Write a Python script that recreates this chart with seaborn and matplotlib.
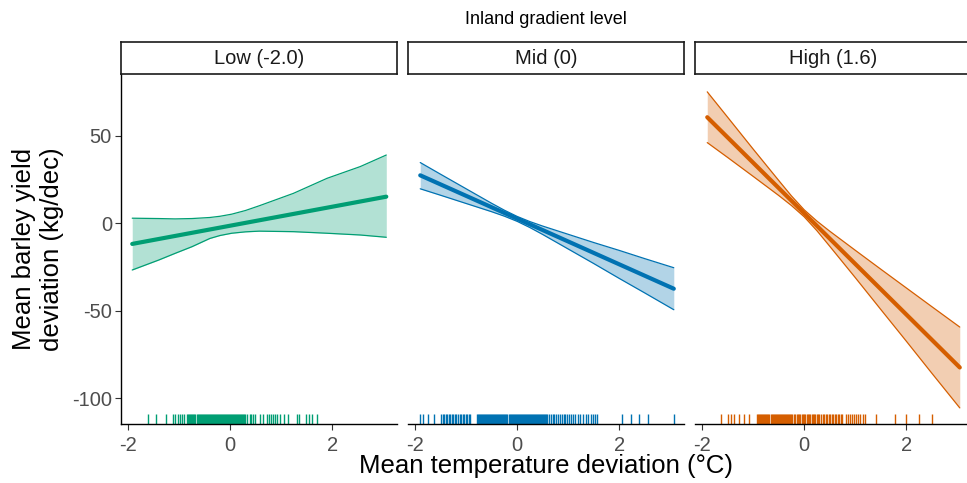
import numpy as np
import pandas as pd
import seaborn as sns
import matplotlib.pyplot as plt

sns.set_theme(style="ticks")
plt.rcParams['font.family'] = ['Liberation Sans', 'DejaVu Sans']

panels = ["Low (-2.0)", "Mid (0)", "High (1.6)"]
colors = ["#009E73", "#0072B2", "#D55E00"]

# fitted lines (end points)
fit_x = [[-1.92, 3.06], [-1.90, 3.07], [-1.90, 3.05]]
fit_y = [[-11.8, 15.2], [27.4, -37.4], [60.6, -82.4]]

# confidence bands
low_band_x = [-1.92, -1.4, -1.08, -0.75, -0.4, -0.2, 0.03, 0.3, 0.57, 1.24, 1.90, 2.55, 3.06]
low_upper = [2.9, 2.7, 2.5, 2.7, 3.3, 4.0, 5.2, 7.3, 10.0, 17.1, 25.7, 32.4, 39.0]
low_lower = [-26.7, -21.0, -17.2, -13.4, -8.7, -7.0, -5.7, -4.9, -4.5, -4.8, -5.7, -6.7, -8.0]

mid_band_x = [-1.9, -1.5, -1.0, -0.5, -0.25, 0.0, 0.25, 0.5, 1.0, 1.5, 2.0, 2.5, 3.07]
mid_upper = [34.7, 28.0, 19.7, 11.4, 7.45, 3.9, 0.95, -1.6, -6.3, -11.0, -15.5, -20.2, -25.4]
mid_lower = [19.7, 16.0, 11.3, 6.6, 4.05, 1.1, -2.45, -6.4, -14.7, -23.0, -31.5, -39.8, -49.4]

high_band_x = [-1.9, -1.5, -1.0, -0.5, -0.25, 0.0, 0.25, 0.5, 1.0, 1.5, 2.0, 2.5, 3.05]
high_upper = [75.1, 60.6, 42.4, 24.5, 15.65, 7.7, 1.25, -4.5, -15.4, -26.2, -36.9, -47.6, -59.3]
high_lower = [46.1, 37.6, 26.8, 15.9, 10.15, 3.7, -4.25, -13.1, -31.0, -49.2, -67.3, -85.6, -105.5]

band_x = [low_band_x, mid_band_x, high_band_x]
band_upper = [low_upper, mid_upper, high_upper]
band_lower = [low_lower, mid_lower, high_lower]

# observed temperature deviations (rug)
low_rug = [-1.62, -1.45, -1.26, -1.13, -1.08, -1.03, -0.99, -0.95, -0.90, -0.85,
           -0.82, -0.80, -0.78, -0.76, -0.74, -0.72, -0.70, -0.68, -0.66, -0.64,
           -0.62, -0.60, -0.58, -0.56, -0.54, -0.52, -0.50, -0.48, -0.46, -0.44,
           -0.42, -0.40, -0.38, -0.36, -0.34, -0.32, -0.30, -0.28, -0.26, -0.24,
           -0.22, -0.20, -0.18, -0.16, -0.14, -0.12, -0.10, -0.08, -0.06, -0.04,
           -0.02, 0.00, 0.02, 0.04, 0.06, 0.08, 0.10, 0.12, 0.14, 0.16, 0.18,
           0.20, 0.22, 0.24, 0.26, 0.28, 0.30, 0.32, 0.38, 0.41, 0.45, 0.49,
           0.59, 0.65, 0.72, 0.76, 0.80, 0.84, 0.88, 0.92, 0.97, 1.05, 1.14,
           1.31, 1.35, 1.49, 1.54, 1.60, 1.70]
mid_rug = [-1.90, -1.84, -1.75, -1.64, -1.49, -1.46, -1.43, -1.40, -1.37, -1.34,
           -1.31, -1.28, -1.25, -1.22, -1.19, -1.16, -1.13, -1.10, -1.07, -1.04,
           -1.01, -0.98, -0.95, -0.92, -0.79, -0.77, -0.75, -0.73, -0.71, -0.69,
           -0.67, -0.65, -0.63, -0.61, -0.59, -0.57, -0.55, -0.53, -0.51, -0.49,
           -0.47, -0.45, -0.43, -0.41, -0.39, -0.37, -0.35, -0.33, -0.31, -0.29,
           -0.27, -0.25, -0.23, -0.21, -0.19, -0.17, -0.15, -0.13, -0.11, -0.09,
           -0.07, -0.05, -0.03, -0.01, 0.01, 0.03, 0.05, 0.07, 0.09, 0.11, 0.13,
           0.15, 0.17, 0.19, 0.21, 0.23, 0.25, 0.27, 0.29, 0.31, 0.33, 0.35, 0.37,
           0.39, 0.41, 0.43, 0.45, 0.47, 0.49, 0.51, 0.53, 0.55, 0.57, 0.59, 0.63,
           0.66, 0.70, 0.73, 0.77, 0.80, 0.84, 0.87, 0.91, 0.94, 0.98, 1.02, 1.06,
           1.10, 1.14, 1.19, 1.24, 1.29, 1.34, 1.39, 1.44, 1.49, 1.53, 1.56,
           2.05, 2.24, 2.38, 2.57, 3.07]
high_rug = [-1.63, -1.50, -1.44, -1.37, -1.27, -1.18, -1.08, -0.92, -0.90, -0.88,
            -0.86, -0.84, -0.82, -0.80, -0.78, -0.76, -0.74, -0.72, -0.70, -0.68,
            -0.66, -0.64, -0.62, -0.60, -0.58, -0.56, -0.54, -0.52, -0.50, -0.48,
            -0.46, -0.44, -0.42, -0.40, -0.38, -0.36, -0.34, -0.32, -0.30, -0.28,
            -0.26, -0.24, -0.20, -0.18, -0.15, -0.13, -0.10, -0.08, -0.05, -0.03,
            0.00, 0.02, 0.05, 0.07, 0.10, 0.12, 0.15, 0.17, 0.20, 0.22, 0.25, 0.27,
            0.30, 0.33, 0.36, 0.39, 0.42, 0.45, 0.48, 0.51, 0.54, 0.57, 0.60, 0.63,
            0.66, 0.69, 0.72, 0.75, 0.82, 0.86, 0.90, 0.94, 0.98, 1.02, 1.06, 1.10,
            1.15, 1.19, 1.41, 1.78, 1.99, 2.25, 2.50]
rugs = [low_rug, mid_rug, high_rug]

W, H = 967, 483
fig = plt.figure(figsize=(W / 100, H / 100), dpi=100)

panel_left = [121, 408, 695]
panel_w = 276
panel_top, panel_bot = 74, 424
strip_top = 42

for i in range(3):
    ax = fig.add_axes([panel_left[i] / W, 1 - panel_bot / H, panel_w / W,
                       (panel_bot - panel_top) / H])
    c = colors[i]
    ax.fill_between(band_x[i], band_lower[i], band_upper[i], color=c,
                    alpha=0.3, lw=0)
    sns.lineplot(x=band_x[i], y=band_upper[i], ax=ax, color=c, lw=0.9)
    sns.lineplot(x=band_x[i], y=band_lower[i], ax=ax, color=c, lw=0.9)
    sns.lineplot(x=fit_x[i], y=fit_y[i], ax=ax, color=c, lw=3)
    sns.rugplot(x=rugs[i], ax=ax, height=0.03, color=c, lw=1.0, alpha=1,
                expand_margins=False)

    ax.set_xlim(-2.14, 3.27)
    ax.set_ylim(-114.7, 85.3)
    ax.set_xticks([-2, 0, 2])
    ax.set_yticks([50, 0, -50, -100])
    ax.set_xticklabels(["-2", "0", "2"])
    ax.set_yticklabels(["50", "0", "-50", "-100"])
    ax.tick_params(length=4, width=0.8, color="#333333", labelcolor="#4D4D4D",
                   labelsize=14.5, pad=2.5)
    ax.tick_params(axis="x", pad=4.5)
    for s in ["top", "right"]:
        ax.spines[s].set_visible(False)
    ax.spines["bottom"].set_color("black")
    ax.spines["left"].set_color("black")
    ax.spines["bottom"].set_linewidth(1)
    ax.spines["left"].set_linewidth(1)
    if i > 0:
        ax.spines["left"].set_visible(False)
        ax.tick_params(axis="y", left=False, labelleft=False)
    ax.set_xlabel("")
    ax.set_ylabel("")

    sax = fig.add_axes([panel_left[i] / W, 1 - panel_top / H, panel_w / W,
                        (panel_top - strip_top) / H])
    sax.set_xticks([])
    sax.set_yticks([])
    sax.set_facecolor("white")
    for s in sax.spines.values():
        s.set_color("#1A1A1A")
        s.set_linewidth(1.2)
    sax.text(0.5, 0.5, panels[i], ha="center", va="center", fontsize=14.5,
             color="#1A1A1A", transform=sax.transAxes)

fig.text(546 / W, 1 - 20 / H, "Inland gradient level", ha="center",
         va="center", fontsize=13, color="black")
fig.text(546 / W, 1 - 466 / H, "Mean temperature deviation (\u00b0C)",
         ha="center", va="center", fontsize=18.5, color="black")
fig.text(38 / W, 1 - 249 / H, "Mean barley yield\ndeviation (kg/dec)",
         ha="center", va="center", rotation=90, fontsize=18.5, color="black",
         multialignment="center", linespacing=1.2)

fig.savefig("out.png", dpi=100)
